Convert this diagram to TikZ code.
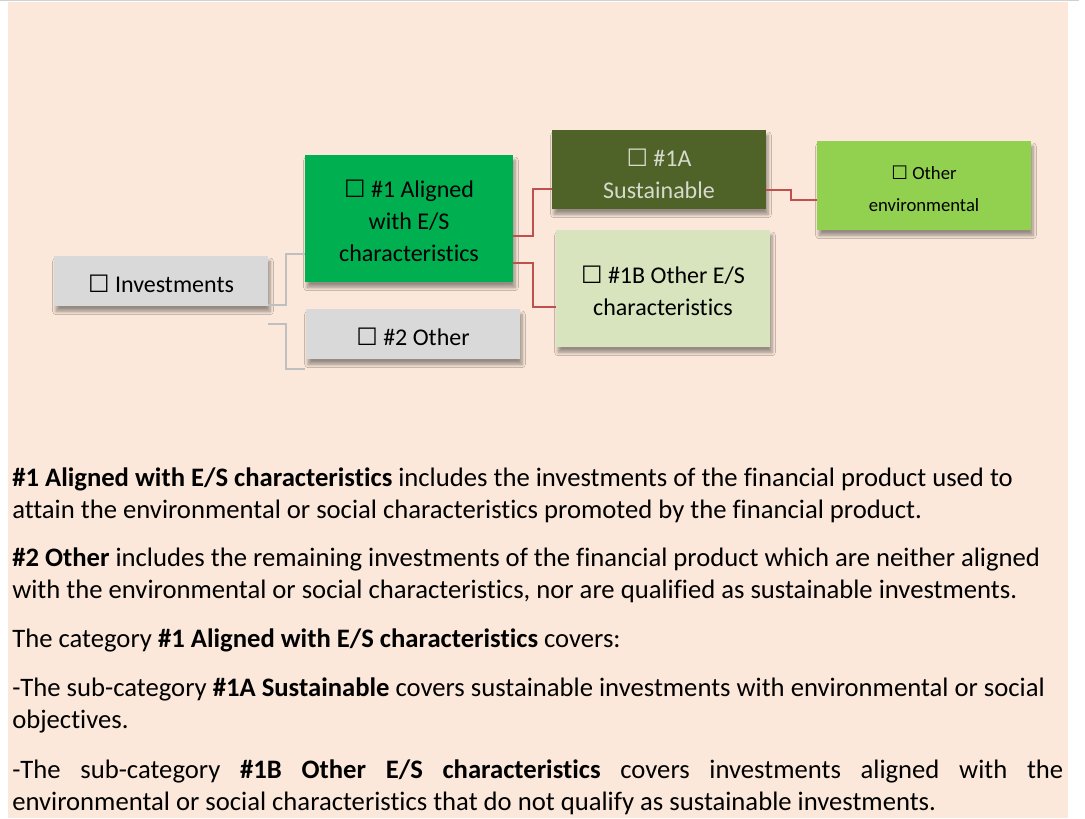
\documentclass[tikz,border=0pt]{standalone}
\usepackage{fontspec}
\setmainfont{Carlito}[Ligatures={NoCommon,TeX}]
\newfontfamily\symfont{DejaVu Sans}
\usetikzlibrary{calc,shadows.blur}
\definecolor{peach}{RGB}{251,232,218}
\definecolor{boxgray}{RGB}{217,217,217}
\definecolor{aligngreen}{RGB}{0,176,80}
\definecolor{olive}{RGB}{79,98,40}
\definecolor{palegreen}{RGB}{215,228,189}
\definecolor{limegreen}{RGB}{146,208,80}
\definecolor{conred}{RGB}{192,80,77}
\definecolor{congray}{RGB}{191,191,191}
\definecolor{oltext}{RGB}{215,218,205}
\newcommand\bbox{{\symfont\char"2610}}
\newcommand\tstrut[1]{\rule{0pt}{#1}}
\tikzset{
  catbox/.style={draw=none, align=center, inner sep=0pt,
    font=\fontsize{18pt}{24pt}\selectfont,
    blur shadow={shadow xshift=1.5pt, shadow yshift=-4pt, shadow blur radius=2.5pt, shadow blur steps=6, shadow opacity=40}},
  graycon/.style={draw=congray, line width=1.5pt},
  redcon/.style={draw=conred, line width=1.4pt},
  para/.style={anchor=base west, inner sep=0pt, font=\fontsize{20pt}{24pt}\selectfont}
}
\begin{document}
\begin{tikzpicture}[x=0.75pt, y=-0.75pt]
\useasboundingbox (0,0) rectangle (1085,818);
\fill[white] (0,0) rectangle (1085,818);
\fill[peach] (8,1.5) rectangle (1068,818);
\draw[draw=black!18, line width=1.2pt] (0,0.5) -- (1079,0.5);

% boxes
\node[catbox, fill=boxgray, minimum width=160.5pt, minimum height=37.5pt] (inv) at (161,281) {\tstrut{17.5pt}\bbox\ Investments};
\node[catbox, fill=aligngreen, minimum width=156pt, minimum height=95.25pt] (al) at (409,218.5) {\tstrut{16.5pt}\bbox\ \#1 Aligned\\ with E/S\\ characteristics};
\node[catbox, fill=boxgray, minimum width=160.5pt, minimum height=37.5pt] (oth) at (413,334) {\tstrut{17.5pt}\bbox\ \#2 Other};
\node[catbox, fill=olive, text=oltext, minimum width=160.5pt, minimum height=59.25pt] (sa) at (659,169.5) {\tstrut{19.5pt}\bbox\ \#1A\\ Sustainable};
\node[catbox, fill=palegreen, minimum width=160.5pt, minimum height=87.75pt] (ob) at (663,288.5) {\tstrut{16.5pt}\bbox\ \#1B Other E/S\\ characteristics};
\node[catbox, fill=limegreen, minimum width=160.5pt, minimum height=66.75pt, font=\fontsize{14pt}{24pt}\selectfont] (oe) at (924,185.5) {\tstrut{15pt}\bbox\ Other\\ environmental};

% connectors
\draw[graycon] ($(inv.south east)+(0,-1)$) -- ++(18,0) |- ($(al.south west)+(0,-28)$);
\draw[graycon] ($(inv.south east)+(0,18)$) -- ++(18,0) |- ($(oth.south west)+(-1,10)$);
\draw[redcon] ($(al.south east)+(0,-46)$) -- ++(20,0) |- ($(sa.south west)+(0,-20)$);
\draw[redcon] ($(al.south east)+(0,-19)$) -- ++(20,0) |- ($(ob.south west)+(0,-40)$);
\draw[redcon] ($(sa.south east)+(0,-19)$) -- ++(25,0) |- ($(oe.south west)+(0,-30)$);

% explanatory text
\node[para] (t1) at (12,486) {\textbf{\#1 Aligned with E/S characteristics} includes the investments of the financial product used to};
\node[para] (t2) at (12,518) {attain the environmental or social characteristics promoted by the financial product.};
\node[para] (t3) at (12,566) {\textbf{\#2 Other} includes the remaining investments of the financial product which are neither aligned};
\node[para] (t4) at (12,598) {with the environmental or social characteristics, nor are qualified as sustainable investments.};
\node[para] (t5) at (12,647) {The category \textbf{\#1 Aligned with E/S characteristics} covers:};
\node[para] (t6) at (12,696) {-The sub-category \textbf{\#1A Sustainable} covers sustainable investments with environmental or social};
\node[para] (t7) at (12,728) {objectives.};
\node[para] (t8) at (12,778) {\makebox[788.25pt][s]{-The sub-category \textbf{\#1B Other E/S characteristics} covers investments aligned with the}};
\node[para] (t9) at (12,810) {environmental or social characteristics that do not qualify as sustainable investments.};
\end{tikzpicture}
\end{document}
